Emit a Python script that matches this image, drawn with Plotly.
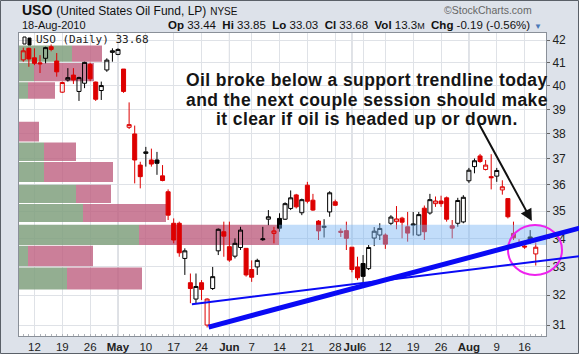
import numpy as np
import plotly.graph_objects as go

# ---------------- data ----------------
dates = [
    "2010-04-08", "2010-04-09", "2010-04-12", "2010-04-13", "2010-04-14", "2010-04-15", "2010-04-16",
    "2010-04-19", "2010-04-20", "2010-04-21", "2010-04-22", "2010-04-23", "2010-04-26", "2010-04-27",
    "2010-04-28", "2010-04-29", "2010-04-30", "2010-05-03", "2010-05-04", "2010-05-05", "2010-05-06",
    "2010-05-07", "2010-05-10", "2010-05-11", "2010-05-12", "2010-05-13", "2010-05-14", "2010-05-17",
    "2010-05-18", "2010-05-19", "2010-05-20", "2010-05-21", "2010-05-24", "2010-05-25", "2010-05-26",
    "2010-05-27", "2010-05-28", "2010-06-01", "2010-06-02", "2010-06-03", "2010-06-04", "2010-06-07",
    "2010-06-08", "2010-06-09", "2010-06-10", "2010-06-11", "2010-06-14", "2010-06-15", "2010-06-16",
    "2010-06-17", "2010-06-18", "2010-06-21", "2010-06-22", "2010-06-23", "2010-06-24", "2010-06-25",
    "2010-06-28", "2010-06-29", "2010-06-30", "2010-07-01", "2010-07-02", "2010-07-06", "2010-07-07",
    "2010-07-08", "2010-07-09", "2010-07-12", "2010-07-13", "2010-07-14", "2010-07-15", "2010-07-16",
    "2010-07-19", "2010-07-20", "2010-07-21", "2010-07-22", "2010-07-23", "2010-07-26", "2010-07-27",
    "2010-07-28", "2010-07-29", "2010-07-30", "2010-08-02", "2010-08-03", "2010-08-04", "2010-08-05",
    "2010-08-06", "2010-08-09", "2010-08-10", "2010-08-11", "2010-08-12", "2010-08-13", "2010-08-16",
    "2010-08-17", "2010-08-18",
]
open_ = [41.12, 41.63, 41.21, 40.99, 41.19, 41.70, 41.07, 39.73, 40.25, 40.46, 39.76, 40.11, 40.92, 40.16,
         39.80, 40.68, 41.45, 41.36, 40.72, 38.27, 38.00, 36.76, 37.22, 36.96, 36.96, 36.34, 35.73, 34.55,
         34.55, 33.28, 32.43, 31.87, 32.43, 31.00, 32.23, 33.55, 34.24, 33.70, 33.36, 33.67, 33.64, 32.89,
         32.98, 33.95, 34.70, 34.18, 34.73, 34.70, 35.10, 35.61, 34.94, 35.98, 35.41, 34.63, 34.40, 34.97,
         35.35, 34.26, 34.28, 33.68, 32.98, 33.10, 32.92, 34.01, 34.12, 34.12, 34.55, 34.61, 34.74, 34.42,
         34.48, 34.12, 35.11, 34.93, 35.28, 35.38, 35.50, 34.46, 34.55, 34.60, 36.15, 36.70, 37.12, 36.59,
         36.31, 36.33, 35.80, 35.47, 34.18, 33.78, 33.72, 34.05, 33.44]
high = [41.66, 41.66, 41.63, 41.33, 41.70, 41.80, 41.42, 40.18, 40.76, 40.76, 40.39, 41.04, 41.00, 40.18,
        40.18, 41.19, 41.63, 41.63, 40.72, 39.30, 38.34, 36.89, 37.48, 37.41, 37.28, 36.76, 35.82, 34.73,
        34.61, 33.64, 32.75, 32.75, 32.52, 31.90, 32.98, 34.36, 34.61, 34.61, 34.00, 34.42, 33.64, 33.21,
        33.27, 34.42, 35.04, 34.42, 34.92, 35.33, 35.78, 35.65, 35.47, 36.11, 35.65, 34.67, 34.70, 35.75,
        35.43, 34.36, 34.61, 33.68, 33.34, 33.40, 33.76, 34.41, 34.55, 34.18, 34.85, 35.19, 34.79, 34.97,
        34.97, 34.97, 35.21, 35.65, 35.55, 35.58, 35.55, 34.67, 35.50, 35.60, 36.65, 37.02, 37.20, 36.96,
        37.19, 36.65, 36.17, 35.47, 34.61, 33.97, 33.80, 34.30, 33.85]
low = [41.04, 40.82, 40.89, 40.55, 40.97, 41.50, 40.39, 39.70, 40.18, 40.08, 39.36, 39.90, 40.20, 39.36,
       39.40, 40.60, 41.04, 41.33, 39.70, 38.20, 36.05, 35.86, 36.70, 36.70, 36.38, 36.13, 34.67, 33.82,
       33.34, 32.70, 31.73, 31.73, 31.84, 30.92, 32.18, 33.40, 33.34, 33.16, 33.28, 33.58, 32.64, 32.46,
       32.70, 33.91, 34.48, 33.82, 34.24, 34.67, 35.04, 35.10, 34.85, 35.29, 35.01, 33.94, 34.03, 34.79,
       35.19, 34.05, 33.58, 32.79, 32.52, 32.45, 32.87, 33.72, 33.94, 33.62, 34.48, 34.33, 34.00, 33.88,
       34.10, 34.08, 33.94, 34.87, 35.16, 35.16, 34.61, 34.00, 34.42, 34.55, 36.07, 36.44, 36.85, 36.55,
       35.82, 36.11, 35.62, 34.73, 33.94, 33.70, 33.62, 33.80, 33.03]
close = [41.52, 41.16, 40.97, 40.95, 41.66, 41.58, 40.60, 40.14, 40.35, 40.25, 40.35, 41.01, 40.30, 39.43,
         40.01, 41.11, 41.52, 41.58, 39.76, 38.38, 36.96, 36.31, 37.28, 36.80, 36.83, 36.16, 34.85, 33.94,
         33.48, 33.55, 32.23, 32.30, 32.20, 31.87, 32.64, 34.33, 34.08, 33.22, 33.82, 34.30, 32.70, 32.62,
         33.21, 33.98, 34.79, 34.27, 34.37, 35.28, 35.50, 35.16, 35.43, 35.37, 35.04, 34.27, 34.44, 35.69,
         35.22, 34.22, 34.00, 32.89, 32.60, 32.65, 33.67, 34.26, 34.36, 33.79, 34.78, 34.71, 34.59, 34.19,
         34.52, 34.87, 34.24, 35.43, 35.38, 35.28, 34.70, 34.37, 35.40, 35.52, 36.56, 36.93, 36.90, 36.76,
         36.27, 36.55, 35.92, 34.79, 34.02, 33.75, 33.69, 33.87, 33.68]
prev_close_before_first = 41.80

tick_dates = ["2010-04-12", "2010-04-19", "2010-04-26", "2010-05-03", "2010-05-10", "2010-05-17",
              "2010-05-24", "2010-06-01", "2010-06-07", "2010-06-14", "2010-06-21", "2010-06-28",
              "2010-07-01", "2010-07-06", "2010-07-12", "2010-07-19", "2010-07-26", "2010-08-02",
              "2010-08-09", "2010-08-16"]
tick_labels = ["12", "19", "26", "<b>May</b>", "10", "17", "24", "<b>Jun</b>", "7", "14", "21", "28",
               "<b>Jul</b>", "6", "12", "19", "26", "<b>Aug</b>", "9", "16"]
month_starts = ["2010-05-03", "2010-06-01", "2010-07-01", "2010-08-02"]
price_ticks = [31, 32, 33, 34, 35, 36, 37, 38, 39, 40, 41, 42]

# volume-by-price zones (price range, up volume, down volume)
vbp_low = [41.04, 40.19, 39.45, 37.70, 36.92, 36.10, 35.30, 34.60, 33.76, 33.00, 32.20]
vbp_high = [41.75, 40.98, 40.15, 38.50, 37.66, 36.88, 36.00, 35.27, 34.50, 33.73, 32.96]
vbp_up = [53, 15, 9, 0, 25, 25, 57, 64, 120, 9, 48]
vbp_down = [30, 60, 27, 20, 32, 69, 35, 83, 140, 65, 75]

# trendlines: (trading-day index, price)
thick_trend = [(33, 30.92), (100, 34.38)]
thin_trend = [(30, 31.69), (100, 33.36)]
note_arrow = [(81.6, 38.50), (91.3, 34.63)]

note_lines = ["Oil broke below a support trendline today",
              "and the next couple session should make",
              "it clear if oil is headed up or down."]

# ---------------- helpers for paper placement of decorations ----------------
W, H = 579, 354
L, R, T, B = 19, 33, 33, 18
PW, PH = W - L - R, H - T - B


def px(x):
    return (x - L) / PW


def py(y):
    return (H - B - y) / PH


idx = list(range(len(dates)))
prev = [prev_close_before_first] + close[:-1]
red_i = [i for i in idx if close[i] < prev[i]]
blk_i = [i for i in idx if close[i] >= prev[i]]

RED = "#dd0000"
BLK = "#000000"
GRID = "#dfe2e7"
BG = "#dde2ea"

fig = go.Figure()

# volume-by-price bars (primary hidden x axis)
gx, gy, rx, ry = [], [], [], []
for lo, hi, u, d in zip(vbp_low, vbp_high, vbp_up, vbp_down):
    if u > 0:
        gx += [0, u, u, 0, 0, None]
        gy += [lo, lo, hi, hi, lo, None]
    rx += [u, u + d, u + d, u, u, None]
    ry += [lo, lo, hi, hi, lo, None]
fig.add_trace(go.Scatter(x=gx, y=gy, fill="toself", mode="lines", line=dict(width=0),
                         fillcolor="rgba(128,160,126,0.85)", xaxis="x", yaxis="y", hoverinfo="skip"))
fig.add_trace(go.Scatter(x=rx, y=ry, fill="toself", mode="lines", line=dict(width=0),
                         fillcolor="rgba(190,95,128,0.8)", xaxis="x", yaxis="y", hoverinfo="skip"))


def candle(ids, color):
    return go.Candlestick(
        x=ids,
        open=[open_[i] for i in ids], high=[high[i] for i in ids],
        low=[low[i] for i in ids], close=[close[i] for i in ids],
        xaxis="x2", yaxis="y", whiskerwidth=0,
        increasing=dict(line=dict(color=color, width=1), fillcolor="rgba(255,255,255,0)"),
        decreasing=dict(line=dict(color=color, width=1), fillcolor=color),
        hoverinfo="skip",
    )


fig.add_trace(candle(red_i, RED))
fig.add_trace(candle(blk_i, BLK))

shapes = []
k = vbp_low.index(33.76)
shapes.append(dict(type="rect", xref="x", yref="y", x0=vbp_up[k] + vbp_down[k], x1=PW,
                   y0=vbp_low[k], y1=vbp_high[k], fillcolor="rgba(120,180,245,0.45)",
                   line=dict(width=0), layer="above"))
for m in month_starts:
    shapes.append(dict(type="line", xref="x2", yref="paper", x0=dates.index(m), x1=dates.index(m),
                       y0=0, y1=1, line=dict(color="#b9bec6", width=1), layer="between"))
shapes.append(dict(type="circle", xref="paper", yref="paper", x0=px(508), x1=px(562), y0=py(275), y1=py(225),
                   line=dict(color="#ee22ee", width=2)))
shapes.append(dict(type="rect", xref="paper", yref="paper", x0=px(23), x1=px(26), y0=py(44), y1=py(37),
                   line=dict(color="#000", width=1), fillcolor="rgba(0,0,0,0)"))
shapes.append(dict(type="rect", xref="paper", yref="paper", x0=px(28), x1=px(31), y0=py(45), y1=py(38),
                   line=dict(color="#000", width=1), fillcolor="#000"))
shapes.append(dict(type="rect", xref="paper", yref="paper", x0=px(0.5), x1=px(W - 0.5), y0=py(H - 0.5), y1=py(0.5),
                   line=dict(color="#5a6068", width=1)))

ann = []
for (x0, y0), (x1, y1), wdt in [(thick_trend[0], thick_trend[1], 5), (thin_trend[0], thin_trend[1], 2)]:
    ann.append(dict(x=x1, y=np.log10(y1), ax=x0, ay=np.log10(y0), xref="x2", yref="y", axref="x2", ayref="y",
                    text="", showarrow=True, arrowhead=0, arrowwidth=wdt, arrowcolor="#0a0af5",
                    standoff=0, startstandoff=0))
(ax0, ay0), (ax1, ay1) = note_arrow
ann.append(dict(x=ax1, y=np.log10(ay1), ax=ax0, ay=np.log10(ay0), xref="x2", yref="y", axref="x2", ayref="y",
                text="", showarrow=True, arrowhead=2, arrowsize=1.2, arrowwidth=2, arrowcolor="#111"))
for line_text, ly in zip(note_lines, [80, 99.5, 119]):
    ann.append(dict(x=px(367), y=py(ly), xref="paper", yref="paper", xanchor="center", yanchor="middle",
                    text="<span style='letter-spacing:0.4px'>" + line_text + "</span>", borderpad=0,
                    showarrow=False, font=dict(family="Arial", size=17.5, color="#151515", weight="bold")))
ann.append(dict(x=px(35), y=py(40), xref="paper", yref="paper", xanchor="left", yanchor="middle",
                text="USO (Daily) 33.68", showarrow=False, borderpad=0,
                font=dict(family="DejaVu Sans Mono", size=11, color="#222")))
ann.append(dict(x=px(21), y=py(10.5), xref="paper", yref="paper", xanchor="left", yanchor="middle",
                text="<b>USO</b> <span style='font-size:12px'>(United States Oil Fund, LP)</span> "
                     "<span style='font-size:10px'>NYSE</span>", borderpad=0,
                showarrow=False, font=dict(family="Arial", size=14, color="#111")))
ann.append(dict(x=px(21), y=py(25.5), xref="paper", yref="paper", xanchor="left", yanchor="middle",
                text="18-Aug-2010", showarrow=False, borderpad=0,
                font=dict(family="Arial", size=11, color="#111")))
ann.append(dict(x=px(531), y=py(25.5), xref="paper", yref="paper", xanchor="right", yanchor="middle",
                text="<b>Op</b> 33.44  <b>Hi</b> 33.85  <b>Lo</b> 33.03  <b>Cl</b> 33.68  "
                     "<b>Vol</b> 13.3<span style='font-size:9px'>M</span>  <b>Chg</b> -0.19 (-0.56%)",
                showarrow=False, borderpad=0, font=dict(family="Arial", size=11.5, color="#111")))
ann.append(dict(x=px(538), y=py(26), xref="paper", yref="paper", xanchor="center", yanchor="middle",
                text="▼", showarrow=False, borderpad=0, font=dict(family="Arial", size=8, color="#4a78b8")))
ann.append(dict(x=px(533), y=py(10.5), xref="paper", yref="paper", xanchor="right", yanchor="middle",
                text="©StockCharts.com", showarrow=False, borderpad=0,
                font=dict(family="Arial", size=10.5, color="#666")))

tick_idx = [dates.index(d) for d in tick_dates]

fig.update_layout(
    width=W, height=H,
    margin=dict(l=L, r=R, t=T, b=B, pad=0, autoexpand=False),
    paper_bgcolor=BG, plot_bgcolor="#ffffff",
    showlegend=False,
    boxgap=0.15, boxgroupgap=0.15,
    xaxis=dict(range=[0, PW], visible=False, fixedrange=True, automargin=False),
    xaxis2=dict(overlaying="x", anchor="y", side="bottom", range=[-0.77, 93.84],
                tickmode="array", tickvals=tick_idx, ticktext=tick_labels, tickangle=0,
                showgrid=True, gridcolor=GRID, gridwidth=1, zeroline=False, automargin=False,
                ticks="", ticklen=0,
                minor=dict(tickmode="linear", tick0=0, dtick=1, ticks="inside", ticklen=2,
                           tickcolor="#b0b4ba", showgrid=False),
                tickfont=dict(family="Arial", size=11.5, color="#222"),
                showline=True, linecolor="#8a9099", mirror=True,
                rangeslider=dict(visible=False)),
    yaxis=dict(type="log", range=[np.log10(30.64), np.log10(42.315)], side="right", anchor="x",
               tickmode="array", tickvals=price_ticks, ticktext=[str(v) for v in price_ticks],
               showgrid=True, gridcolor=GRID, gridwidth=1, zeroline=False, automargin=False,
               ticks="outside", ticklen=3, tickcolor="#666",
               tickfont=dict(family="Arial", size=12, color="#222"),
               showline=True, linecolor="#8a9099", mirror=True),
    shapes=shapes,
    annotations=ann,
)

fig.write_html("out.html")
